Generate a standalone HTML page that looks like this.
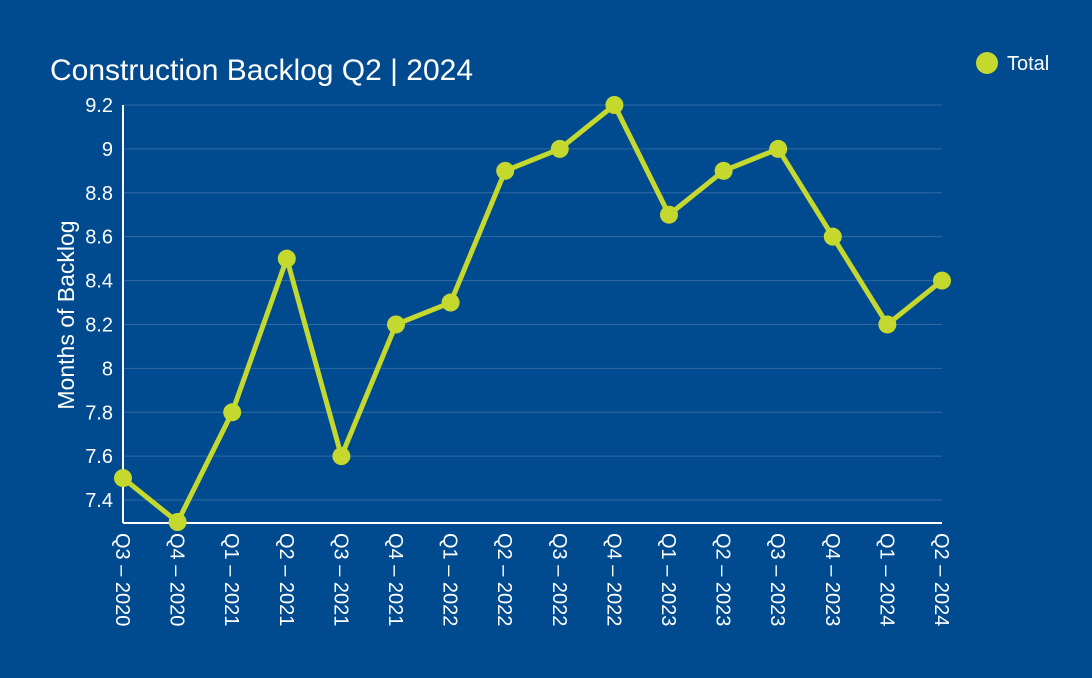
<!DOCTYPE html>
<html><head><meta charset="utf-8"><style>
body{margin:0;background:#004b8f;}
svg{display:block;font-family:"Liberation Sans",sans-serif;}
</style></head><body>
<svg id="c" width="1092" height="678">
<rect width="1092" height="678" fill="#004b8f"/>
<text x="50" y="80" font-size="30" fill="#fff">Construction Backlog Q2 | 2024</text>
<g>
<circle cx="987" cy="63" r="11" fill="#c5d82e"/>
<text x="1007" y="70" font-size="20" fill="#fff">Total</text>
</g>
<text transform="translate(74,315) rotate(-90)" text-anchor="middle" font-size="23" fill="#fff">Months of Backlog</text>
<g id="grid"></g><g id="axes"></g><g id="series"></g>
</svg>
<script>
const categories=["Q3 – 2020","Q4 – 2020","Q1 – 2021","Q2 – 2021","Q3 – 2021","Q4 – 2021","Q1 – 2022","Q2 – 2022","Q3 – 2022","Q4 – 2022","Q1 – 2023","Q2 – 2023","Q3 – 2023","Q4 – 2023","Q1 – 2024","Q2 – 2024"];
const totalValues=[7.5,7.3,7.8,8.5,7.6,8.2,8.3,8.9,9.0,9.2,8.7,8.9,9.0,8.6,8.2,8.4];
const yTicks=[7.4,7.6,7.8,8,8.2,8.4,8.6,8.8,9,9.2];
const yTickLabels=["7.4","7.6","7.8","8","8.2","8.4","8.6","8.8","9","9.2"];
const NS="http://www.w3.org/2000/svg";
const x0=123,x1=942,yMin=7.3,yMax=9.2,yb=522,yt=105;
const xs=i=>x0+(x1-x0)*i/(categories.length-1);
const ys=v=>yb-(v-yMin)/(yMax-yMin)*(yb-yt);
function mk(t,a,p){const e=document.createElementNS(NS,t);for(const k in a)e.setAttribute(k,a[k]);p.appendChild(e);return e;}
const grid=document.getElementById('grid'),axes=document.getElementById('axes'),ser=document.getElementById('series');
yTicks.forEach((v,i)=>{
 const l=mk('line',{x1:x0,x2:x1,y1:ys(v),y2:ys(v),stroke:'#2f6aa3','stroke-width':1},grid);
 
 
 const t=mk('text',{x:113,y:ys(v)+7,'text-anchor':'end','font-size':20,fill:'#fff'},axes);
 t.textContent=yTickLabels[i];
 
 
});
const ya=mk('line',{x1:x0,x2:x0,y1:yt,y2:yb+1,stroke:'#fff','stroke-width':2},axes);


const xa=mk('line',{x1:x0,x2:x1,y1:yb+1,y2:yb+1,stroke:'#fff','stroke-width':2},axes);


categories.forEach((c,i)=>{
 const t=mk('text',{transform:`translate(${xs(i)-7},533) rotate(90)`,'font-size':20,fill:'#fff'},axes);
 t.textContent=c;
 
 
});
const p=mk('polyline',{points:totalValues.map((v,i)=>xs(i)+','+ys(v)).join(' '),fill:'none',stroke:'#c5d82e','stroke-width':5,'stroke-linejoin':'round'},ser);


totalValues.forEach((v,i)=>{
 const c=mk('circle',{cx:xs(i),cy:ys(v),r:9,fill:'#c5d82e'},ser);
 
 
});
</script>
</body></html>
